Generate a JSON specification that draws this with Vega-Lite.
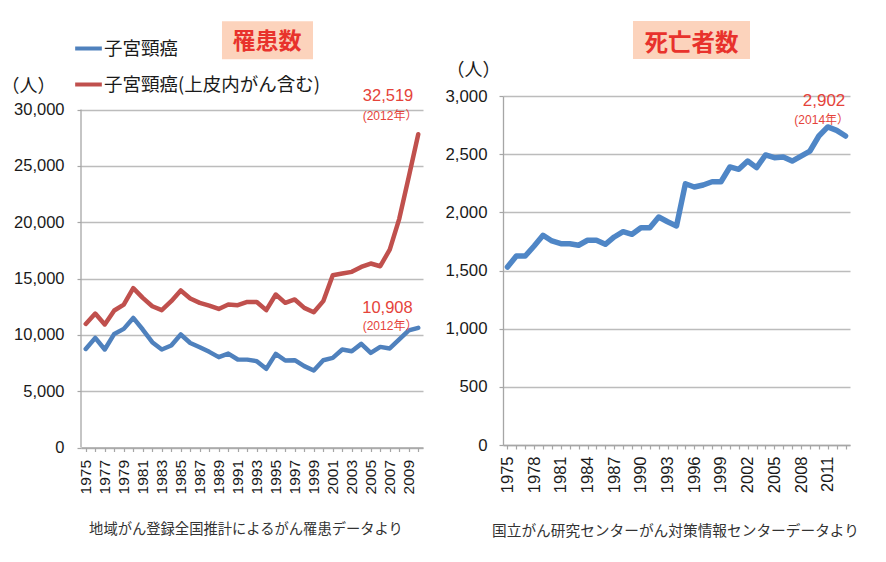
{
  "$schema": "https://vega.github.io/schema/vega-lite/v6.json",
  "background": "white",
  "padding": {"left": 1, "top": 20, "right": 0, "bottom": 0},
  "spacing": 18,
  "bounds": "full",
  "align": "none",
  "datasets": {
    "incidence": [
      {"year": 1975, "series": "子宮頸癌", "value": 8750},
      {"year": 1976, "series": "子宮頸癌", "value": 9730},
      {"year": 1977, "series": "子宮頸癌", "value": 8700},
      {"year": 1978, "series": "子宮頸癌", "value": 10080},
      {"year": 1979, "series": "子宮頸癌", "value": 10530},
      {"year": 1980, "series": "子宮頸癌", "value": 11500},
      {"year": 1981, "series": "子宮頸癌", "value": 10470},
      {"year": 1982, "series": "子宮頸癌", "value": 9350},
      {"year": 1983, "series": "子宮頸癌", "value": 8700},
      {"year": 1984, "series": "子宮頸癌", "value": 9050},
      {"year": 1985, "series": "子宮頸癌", "value": 10030},
      {"year": 1986, "series": "子宮頸癌", "value": 9280},
      {"year": 1987, "series": "子宮頸癌", "value": 8900},
      {"year": 1988, "series": "子宮頸癌", "value": 8490},
      {"year": 1989, "series": "子宮頸癌", "value": 8020},
      {"year": 1990, "series": "子宮頸癌", "value": 8340},
      {"year": 1991, "series": "子宮頸癌", "value": 7810},
      {"year": 1992, "series": "子宮頸癌", "value": 7800},
      {"year": 1993, "series": "子宮頸癌", "value": 7660},
      {"year": 1994, "series": "子宮頸癌", "value": 6980},
      {"year": 1995, "series": "子宮頸癌", "value": 8310},
      {"year": 1996, "series": "子宮頸癌", "value": 7720},
      {"year": 1997, "series": "子宮頸癌", "value": 7750},
      {"year": 1998, "series": "子宮頸癌", "value": 7220},
      {"year": 1999, "series": "子宮頸癌", "value": 6840},
      {"year": 2000, "series": "子宮頸癌", "value": 7750},
      {"year": 2001, "series": "子宮頸癌", "value": 7950},
      {"year": 2002, "series": "子宮頸癌", "value": 8700},
      {"year": 2003, "series": "子宮頸癌", "value": 8550},
      {"year": 2004, "series": "子宮頸癌", "value": 9200},
      {"year": 2005, "series": "子宮頸癌", "value": 8400},
      {"year": 2006, "series": "子宮頸癌", "value": 8930},
      {"year": 2007, "series": "子宮頸癌", "value": 8790},
      {"year": 2008, "series": "子宮頸癌", "value": 9590},
      {"year": 2009, "series": "子宮頸癌", "value": 10390},
      {"year": 2010, "series": "子宮頸癌", "value": 10620},
      {"year": 1975, "series": "子宮頸癌(上皮内がん含む)", "value": 10970},
      {"year": 1976, "series": "子宮頸癌(上皮内がん含む)", "value": 11890},
      {"year": 1977, "series": "子宮頸癌(上皮内がん含む)", "value": 10920},
      {"year": 1978, "series": "子宮頸癌(上皮内がん含む)", "value": 12160},
      {"year": 1979, "series": "子宮頸癌(上皮内がん含む)", "value": 12690},
      {"year": 1980, "series": "子宮頸癌(上皮内がん含む)", "value": 14140},
      {"year": 1981, "series": "子宮頸癌(上皮内がん含む)", "value": 13280},
      {"year": 1982, "series": "子宮頸癌(上皮内がん含む)", "value": 12540},
      {"year": 1983, "series": "子宮頸癌(上皮内がん含む)", "value": 12190},
      {"year": 1984, "series": "子宮頸癌(上皮内がん含む)", "value": 12990},
      {"year": 1985, "series": "子宮頸癌(上皮内がん含む)", "value": 13940},
      {"year": 1986, "series": "子宮頸癌(上皮内がん含む)", "value": 13230},
      {"year": 1987, "series": "子宮頸癌(上皮内がん含む)", "value": 12840},
      {"year": 1988, "series": "子宮頸癌(上皮内がん含む)", "value": 12600},
      {"year": 1989, "series": "子宮頸癌(上皮内がん含む)", "value": 12300},
      {"year": 1990, "series": "子宮頸癌(上皮内がん含む)", "value": 12690},
      {"year": 1991, "series": "子宮頸癌(上皮内がん含む)", "value": 12630},
      {"year": 1992, "series": "子宮頸癌(上皮内がん含む)", "value": 12920},
      {"year": 1993, "series": "子宮頸癌(上皮内がん含む)", "value": 12920},
      {"year": 1994, "series": "子宮頸癌(上皮内がん含む)", "value": 12190},
      {"year": 1995, "series": "子宮頸癌(上皮内がん含む)", "value": 13580},
      {"year": 1996, "series": "子宮頸癌(上皮内がん含む)", "value": 12840},
      {"year": 1997, "series": "子宮頸癌(上皮内がん含む)", "value": 13140},
      {"year": 1998, "series": "子宮頸癌(上皮内がん含む)", "value": 12390},
      {"year": 1999, "series": "子宮頸癌(上皮内がん含む)", "value": 12010},
      {"year": 2000, "series": "子宮頸癌(上皮内がん含む)", "value": 12990},
      {"year": 2001, "series": "子宮頸癌(上皮内がん含む)", "value": 15290},
      {"year": 2002, "series": "子宮頸癌(上皮内がん含む)", "value": 15440},
      {"year": 2003, "series": "子宮頸癌(上皮内がん含む)", "value": 15590},
      {"year": 2004, "series": "子宮頸癌(上皮内がん含む)", "value": 16030},
      {"year": 2005, "series": "子宮頸癌(上皮内がん含む)", "value": 16330},
      {"year": 2006, "series": "子宮頸癌(上皮内がん含む)", "value": 16090},
      {"year": 2007, "series": "子宮頸癌(上皮内がん含む)", "value": 17570},
      {"year": 2008, "series": "子宮頸癌(上皮内がん含む)", "value": 20300},
      {"year": 2009, "series": "子宮頸癌(上皮内がん含む)", "value": 24000},
      {"year": 2010, "series": "子宮頸癌(上皮内がん含む)", "value": 27800}
    ],
    "deaths": [
      {"year": 1975, "deaths": 1530}, {"year": 1976, "deaths": 1625}, {"year": 1977, "deaths": 1625},
      {"year": 1978, "deaths": 1711}, {"year": 1979, "deaths": 1803}, {"year": 1980, "deaths": 1754},
      {"year": 1981, "deaths": 1730}, {"year": 1982, "deaths": 1730}, {"year": 1983, "deaths": 1717},
      {"year": 1984, "deaths": 1760}, {"year": 1985, "deaths": 1760}, {"year": 1986, "deaths": 1725},
      {"year": 1987, "deaths": 1788}, {"year": 1988, "deaths": 1834}, {"year": 1989, "deaths": 1811},
      {"year": 1990, "deaths": 1868}, {"year": 1991, "deaths": 1868}, {"year": 1992, "deaths": 1960},
      {"year": 1993, "deaths": 1919}, {"year": 1994, "deaths": 1883}, {"year": 1995, "deaths": 2246},
      {"year": 1996, "deaths": 2218}, {"year": 1997, "deaths": 2235}, {"year": 1998, "deaths": 2263},
      {"year": 1999, "deaths": 2263}, {"year": 2000, "deaths": 2390}, {"year": 2001, "deaths": 2370},
      {"year": 2002, "deaths": 2441}, {"year": 2003, "deaths": 2384}, {"year": 2004, "deaths": 2493},
      {"year": 2005, "deaths": 2470}, {"year": 2006, "deaths": 2476}, {"year": 2007, "deaths": 2441},
      {"year": 2008, "deaths": 2484}, {"year": 2009, "deaths": 2527}, {"year": 2010, "deaths": 2656},
      {"year": 2011, "deaths": 2734}, {"year": 2012, "deaths": 2705}, {"year": 2013, "deaths": 2656}
    ]
  },
  "config": {
    "view": {"stroke": null},
    "axis": {
      "domainColor": "#a6a6a6",
      "domainWidth": 1.3,
      "tickColor": "#a6a6a6",
      "tickWidth": 1.2,
      "tickSize": 4,
      "gridColor": "#bcbcbc",
      "gridWidth": 1.3,
      "labelColor": "#1a1a1a",
      "labelFont": "Liberation Sans, Noto Sans CJK JP",
      "titleFont": "Noto Sans CJK JP",
      "titleFontWeight": "normal",
      "titleColor": "#1a1a1a"
    }
  },
  "hconcat": [
    {
      "width": 342,
      "height": 351.5,
      "resolve": {"axis": {"x": "independent", "y": "independent"}},
      "layer": [
        {
          "data": {"name": "incidence"},
          "mark": {"type": "line", "strokeWidth": 4.5, "strokeJoin": "round", "strokeCap": "round"},
          "encoding": {
            "x": {
              "field": "year", "type": "quantitative",
              "scale": {"domain": [1974.5, 2010.5], "nice": false, "zero": false},
              "axis": {
                "values": [1975, 1976, 1977, 1978, 1979, 1980, 1981, 1982, 1983, 1984, 1985, 1986, 1987, 1988, 1989, 1990, 1991, 1992, 1993, 1994, 1995, 1996, 1997, 1998, 1999, 2000, 2001, 2002, 2003, 2004, 2005, 2006, 2007, 2008, 2009, 2010],
                "labelExpr": "datum.value % 2 == 1 ? format(datum.value, 'd') : ''",
                "labelAngle": 270,
                "labelAlign": "right",
                "labelBaseline": "middle",
                "labelFontSize": 15.5,
                "labelPadding": 8,
                "labelOverlap": false,
                "labelFlush": false,
                "labelBound": false,
                "grid": false,
                "title": "地域がん登録全国推計によるがん罹患データより",
                "titleFontSize": 14.3,
                "titleColor": "#333333",
                "titleAlign": "center",
                "titleBaseline": "middle",
                "titleX": 164.5,
                "titleY": 82
              }
            },
            "y": {
              "field": "value", "type": "quantitative",
              "scale": {"domain": [0, 31200], "nice": false},
              "axis": {
                "values": [0, 5000, 10000, 15000, 20000, 25000, 30000],
                "format": ",d",
                "domain": false,
                "labelFontSize": 16.5,
                "labelPadding": 13,
                "grid": true,
                "title": "（人）",
                "titleFontSize": 18,
                "titleAngle": 0,
                "titleAlign": "left",
                "titleBaseline": "middle",
                "titleX": -80,
                "titleY": -10
              }
            },
            "color": {
              "field": "series", "type": "nominal",
              "scale": {"domain": ["子宮頸癌", "子宮頸癌(上皮内がん含む)"], "range": ["#4f81bd", "#c0504d"]},
              "legend": {
                "title": null,
                "orient": "none",
                "direction": "vertical",
                "legendX": -8,
                "legendY": -63,
                "padding": 0,
                "symbolType": "stroke",
                "symbolSize": 711,
                "symbolStrokeWidth": 4,
                "rowPadding": 11,
                "labelOffset": 0,
                "labelFont": "Noto Sans CJK JP",
                "labelFontSize": 18.5,
                "labelColor": "#1a1a1a",
                "labelLimit": 400
              }
            }
          }
        },
        {
          "data": {"values": [{}]},
          "mark": {"type": "rule", "color": "#a6a6a6", "strokeWidth": 1.3},
          "encoding": {
            "x": {"datum": 1974.5, "type": "quantitative", "axis": null},
            "y": {"datum": 0, "type": "quantitative", "axis": null},
            "y2": {"datum": 30000}
          }
        },
        {
          "data": {"values": [{}]},
          "mark": {"type": "rect", "color": "#fcd3bc"},
          "encoding": {
            "x": {"datum": 1989.34, "type": "quantitative", "axis": null},
            "x2": {"datum": 1998.92},
            "y": {"datum": 37838, "type": "quantitative", "axis": null},
            "y2": {"datum": 34466}
          }
        },
        {
          "data": {"values": [{}]},
          "mark": {"type": "text", "text": "罹患数", "font": "Noto Sans CJK JP", "fontSize": 23, "fontWeight": "bold", "color": "#e8322c", "align": "center", "baseline": "middle"},
          "encoding": {
            "x": {"datum": 1994.08, "type": "quantitative", "axis": null},
            "y": {"datum": 35975, "type": "quantitative", "axis": null}
          }
        },
        {
          "data": {"values": [{}]},
          "mark": {"type": "text", "text": "32,519", "font": "Liberation Sans", "fontSize": 16.5, "color": "#e5433a", "align": "center", "baseline": "middle"},
          "encoding": {
            "x": {"datum": 2006.82, "type": "quantitative", "axis": null},
            "y": {"datum": 31181, "type": "quantitative", "axis": null}
          }
        },
        {
          "data": {"values": [{}]},
          "mark": {"type": "text", "text": "(2012年）", "font": "Liberation Sans, Noto Sans CJK JP", "fontSize": 12, "color": "#e5433a", "align": "center", "baseline": "middle"},
          "encoding": {
            "x": {"datum": 2007.03, "type": "quantitative", "axis": null},
            "y": {"datum": 29406, "type": "quantitative", "axis": null}
          }
        },
        {
          "data": {"values": [{}]},
          "mark": {"type": "text", "text": "10,908", "font": "Liberation Sans", "fontSize": 16.5, "color": "#e5433a", "align": "center", "baseline": "middle"},
          "encoding": {
            "x": {"datum": 2006.76, "type": "quantitative", "axis": null},
            "y": {"datum": 12391, "type": "quantitative", "axis": null}
          }
        },
        {
          "data": {"values": [{}]},
          "mark": {"type": "text", "text": "(2012年）", "font": "Liberation Sans, Noto Sans CJK JP", "fontSize": 12, "color": "#e5433a", "align": "center", "baseline": "middle"},
          "encoding": {
            "x": {"datum": 2007.03, "type": "quantitative", "axis": null},
            "y": {"datum": 10767, "type": "quantitative", "axis": null}
          }
        }
      ]
    },
    {
      "width": 347,
      "height": 349,
      "resolve": {"axis": {"x": "independent", "y": "independent"}},
      "layer": [
        {
          "data": {"name": "deaths"},
          "mark": {"type": "line", "strokeWidth": 5.5, "strokeJoin": "round", "strokeCap": "round", "color": "#4f86c6"},
          "encoding": {
            "x": {
              "field": "year", "type": "quantitative",
              "scale": {"domain": [1974.5, 2013.5], "nice": false, "zero": false},
              "axis": {
                "values": [1975, 1976, 1977, 1978, 1979, 1980, 1981, 1982, 1983, 1984, 1985, 1986, 1987, 1988, 1989, 1990, 1991, 1992, 1993, 1994, 1995, 1996, 1997, 1998, 1999, 2000, 2001, 2002, 2003, 2004, 2005, 2006, 2007, 2008, 2009, 2010, 2011, 2012, 2013],
                "labelExpr": "(datum.value - 1975) % 3 == 0 ? format(datum.value, 'd') : ''",
                "labelAngle": 270,
                "labelAlign": "right",
                "labelBaseline": "middle",
                "labelFontSize": 16.5,
                "labelPadding": 7,
                "labelOverlap": false,
                "labelFlush": false,
                "labelBound": false,
                "grid": false,
                "title": "国立がん研究センターがん対策情報センターデータより",
                "titleFontSize": 14.7,
                "titleColor": "#333333",
                "titleAlign": "center",
                "titleBaseline": "middle",
                "titleX": 172,
                "titleY": 86
              }
            },
            "y": {
              "field": "deaths", "type": "quantitative",
              "scale": {"domain": [0, 3000], "nice": false},
              "axis": {
                "values": [0, 500, 1000, 1500, 2000, 2500, 3000],
                "format": ",d",
                "labelFontSize": 16.8,
                "labelPadding": 12,
                "grid": true,
                "title": "（人）",
                "titleFontSize": 18,
                "titleAngle": 0,
                "titleAlign": "left",
                "titleBaseline": "middle",
                "titleX": -57,
                "titleY": -26
              }
            }
          }
        },
        {
          "data": {"values": [{}]},
          "mark": {"type": "rect", "color": "#fcd3bc"},
          "encoding": {
            "x": {"datum": 1989.11, "type": "quantitative", "axis": null},
            "x2": {"datum": 2002.26},
            "y": {"datum": 3645, "type": "quantitative", "axis": null},
            "y2": {"datum": 3318}
          }
        },
        {
          "data": {"values": [{}]},
          "mark": {"type": "text", "text": "死亡者数", "font": "Noto Sans CJK JP", "fontSize": 23.5, "fontWeight": "bold", "color": "#e8322c", "align": "center", "baseline": "middle"},
          "encoding": {
            "x": {"datum": 1995.69, "type": "quantitative", "axis": null},
            "y": {"datum": 3451, "type": "quantitative", "axis": null}
          }
        },
        {
          "data": {"values": [{}]},
          "mark": {"type": "text", "text": "2,902", "font": "Liberation Sans", "fontSize": 17, "color": "#e5433a", "align": "center", "baseline": "middle"},
          "encoding": {
            "x": {"datum": 2010.58, "type": "quantitative", "axis": null},
            "y": {"datum": 2957, "type": "quantitative", "axis": null}
          }
        },
        {
          "data": {"values": [{}]},
          "mark": {"type": "text", "text": "(2014年）", "font": "Liberation Sans, Noto Sans CJK JP", "fontSize": 12, "color": "#e5433a", "align": "center", "baseline": "middle"},
          "encoding": {
            "x": {"datum": 2010.32, "type": "quantitative", "axis": null},
            "y": {"datum": 2791, "type": "quantitative", "axis": null}
          }
        }
      ]
    }
  ]
}
